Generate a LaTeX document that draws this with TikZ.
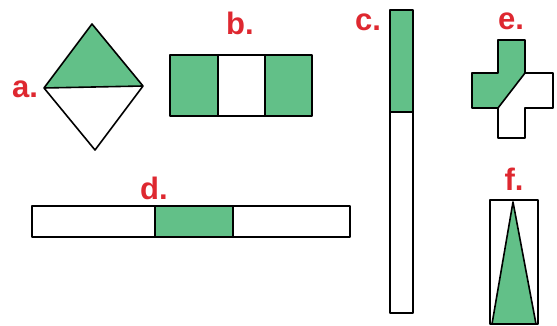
\documentclass[tikz,border=0pt]{standalone}
\usepackage{fontspec}
\setsansfont{Liberation Sans}
\definecolor{leaf}{RGB}{98,192,136}
\definecolor{tagred}{RGB}{222,40,48}
\tikzset{
  part/.style={draw=black,line width=1.6pt,line join=round},
  tagtext/.style={text=tagred,font=\sffamily\bfseries\fontsize{31}{31}\selectfont,anchor=base,inner sep=0pt}
}

\begin{document}
\begin{tikzpicture}[x=1pt,y=-1pt]
\useasboundingbox (0,0) rectangle (557,326);
% a.
\fill[leaf] (44,88) -- (92,24) -- (143,86) -- cycle;
\draw[part] (92,24) -- (143,86) -- (95,150) -- (44,88) -- cycle;
\draw[part] (44,88) -- (143,86);
\node[tagtext] (lbla) at (25,98) {a.};
% b.
\fill[leaf] (170,55) rectangle (218,116);
\fill[leaf] (265,55) rectangle (312,116);
\draw[part] (170,55) rectangle (312,116);
\draw[part] (218,55) -- (218,116);
\draw[part] (265,55) -- (265,116);
\node[tagtext] (lblb) at (240,35) {b.};
% c.
\fill[leaf] (390,10) rectangle (413,112);
\draw[part] (390,10) rectangle (413,313);
\draw[part] (390,112) -- (413,112);
\node[tagtext] (lblc) at (368,31) {c.};
% d.
\fill[leaf] (155,206) rectangle (233,237);
\draw[part] (32,206) rectangle (350,237);
\draw[part] (155,206) -- (155,237);
\draw[part] (233,206) -- (233,237);
\node[tagtext] (lbld) at (154,200) {d.};
% e.
\fill[leaf] (498,40) -- (525,40) -- (525,73) -- (498,108) -- (472,108) -- (472,73) -- (498,73) -- cycle;
\draw[part] (498,40) -- (525,40) -- (525,73) -- (553,73) -- (553,108) -- (525,108)
  -- (525,138) -- (498,138) -- (498,108) -- (472,108) -- (472,73) -- (498,73) -- cycle;
\draw[part] (525,73) -- (498,108);
\node[tagtext] (lble) at (511,30) {e.};
% f.
\fill[leaf] (513,202) -- (536,324) -- (492,324) -- cycle;
\draw[part] (490,200) rectangle (538,324);
\draw[part] (492,324) -- (513,202) -- (536,324);
\node[tagtext] (lblf) at (514,190) {f.};
\end{tikzpicture}
\end{document}
